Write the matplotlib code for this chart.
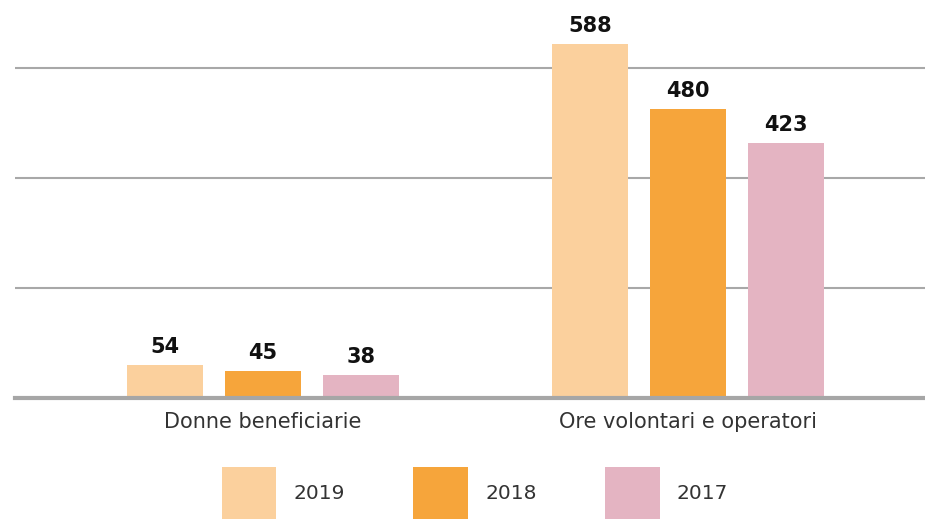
import matplotlib
matplotlib.use("Agg")
import matplotlib.pyplot as plt
import numpy as np
from matplotlib.ticker import MultipleLocator

categories = ["Donne beneficiarie", "Ore volontari e operatori"]
years = ["2019", "2018", "2017"]
values_2019 = [54, 588]
values_2018 = [45, 480]
values_2017 = [38, 423]

colors = ["#FBD09D", "#F6A53B", "#E4B4C2"]
TEXT = "#333333"

plt.rcParams["font.family"] = ["DejaVu Sans"]

fig = plt.figure(figsize=(9.25, 5.19), dpi=100)
ax = fig.add_axes([15 / 925, (519 - 398) / 519, 910 / 925, 398 / 519])

x = np.arange(len(categories))
width = 0.179
step = 0.2306
series = [values_2019, values_2018, values_2017]

bars = []
for i, (vals, year) in enumerate(zip(series, years)):
    b = ax.bar(x + (i - 1) * step, vals, width, color=colors[i], label=year, zorder=3)
    bars.append(b)
    for rect, v in zip(b, vals):
        ax.annotate(str(v), (rect.get_x() + rect.get_width() / 2, v),
                    xytext=(0, 6), textcoords="offset points",
                    ha="center", va="bottom", fontsize=15, fontweight="bold",
                    color="#111111")

ax.set_xlim(-0.5835, 1.5576)
ax.set_ylim(0, 661)
ax.yaxis.set_major_locator(MultipleLocator(182.7))
ax.grid(axis="y", color="#A8A8A8", linewidth=1.5, zorder=0)
ax.set_axisbelow(True)
for s in ["top", "right", "left"]:
    ax.spines[s].set_visible(False)
ax.spines["bottom"].set_color("#A6A6A6")
ax.spines["bottom"].set_linewidth(3)
ax.spines["bottom"].set_zorder(4)
ax.tick_params(axis="y", left=False, labelleft=False)
ax.tick_params(axis="x", length=0, pad=10, labelsize=15, labelcolor=TEXT)
ax.set_xticks(x)
ax.set_xticklabels(categories)

fig.legend(handles=bars, labels=years, loc="center",
           bbox_to_anchor=(475 / 925, (519 - 493) / 519), ncol=3,
           frameon=False, fontsize=14.5, labelcolor=TEXT,
           handlelength=2.71, handleheight=3.54, handletextpad=0.85,
           columnspacing=3.4, borderpad=0)

fig.savefig("out.png", dpi=100, facecolor="white")
